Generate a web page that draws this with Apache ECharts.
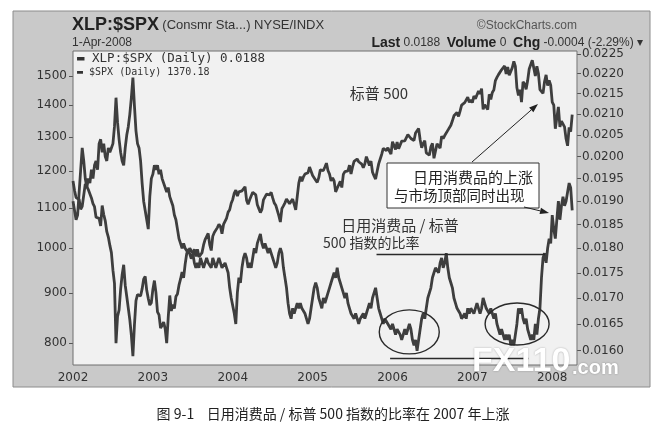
<!DOCTYPE html>
<html><head><meta charset="utf-8">
<script src="https://cdn.jsdelivr.net/npm/echarts@6/dist/echarts.min.js"></script>
<style>html,body{margin:0;padding:0;background:#fff;}#c{width:667px;height:427px;}</style>
</head><body><div id="c"></div>
<script>
// ---- data (weekly readings, 52 per year, first point at start of year) ----
const weeksPerYear = 52;
const spx2002 = [1172,1146,1127,1130, 1122,1096,1104,1106, 1164,1166,1148,1147,1126, 1111,1103,1076,1077, 1073,1054,1106,1083, 1067,1040,1027,1007,990, 950,921,800,852, 865,908,940,962, 917,893,889,845,815, 776,835,884,897, 900,894,909,930, 936,906,889,875,880];
const spx2003 = [908,927,901,861, 855,829,834,841, 828,800,850,895,863, 876,868,893,898, 917,930,946,933, 963,987,998,995,976, 985,998,981,998, 980,977,990,1008, 1021,1018,1036,1009,995, 1029,1038,1039,1050, 1058,1053,1035,1058, 1061,1074,1089,1095,1112];
const spx2004 = [1122,1139,1147,1131, 1142,1146,1145,1144, 1156,1120,1109,1121,1126, 1141,1139,1134,1108, 1098,1088,1096,1121, 1123,1136,1135,1134,1141, 1126,1113,1107,1102, 1080,1064,1098,1105, 1113,1123,1128,1111,1115, 1123,1109,1095,1130, 1166,1184,1171,1183, 1191,1189,1195,1211,1212];
const spx2005 = [1187,1185,1174,1168, 1181,1203,1205,1201, 1211,1222,1201,1191,1172, 1180,1172,1142,1152, 1157,1171,1154,1190, 1198,1197,1200,1216,1191, 1211,1227,1228,1234, 1226,1230,1219,1209, 1220,1241,1228,1215,1228, 1196,1186,1177,1199, 1220,1234,1248,1265, 1263,1259,1267,1257,1248];
const spx2006 = [1285,1287,1262,1284, 1264,1266,1287,1289, 1288,1282,1307,1302,1295, 1296,1289,1312,1311, 1326,1291,1267,1280, 1288,1252,1256,1245,1270, 1280,1236,1241,1279, 1279,1266,1302,1295, 1304,1299,1320,1315,1336, 1350,1366,1368,1377, 1364,1381,1401,1400, 1409,1418,1427,1410,1418];
const spx2007 = [1409,1431,1422,1420, 1448,1438,1456,1387, 1402,1406,1386,1437,1420, 1443,1452,1484,1495, 1505,1505,1522,1515, 1536,1507,1532,1503,1503, 1530,1553,1534,1459, 1433,1453,1411,1480, 1473,1454,1484,1525,1527, 1557,1561,1500,1535, 1509,1453,1458,1440, 1481,1504,1467,1485,1468];
const spx2008 = [1411,1401,1325,1330, 1395,1331,1349,1353, 1331,1294,1273,1329,1316, 1370];

const ratio2002 = [0.0190,0.0188,0.0186,0.0187, 0.0192,0.0197,0.0202,0.0199, 0.0195,0.0193,0.0195,0.0194,0.0197, 0.0195,0.0198,0.0199,0.0197, 0.0203,0.0204,0.0201,0.0203, 0.0200,0.0199,0.0202,0.0201,0.0202, 0.0203,0.0207,0.0214,0.0208, 0.0204,0.0201,0.0199,0.0198, 0.0202,0.0205,0.0207,0.0210,0.0214, 0.0219,0.0212,0.0206,0.0203, 0.0202,0.0199,0.0194,0.0190, 0.0188,0.0186,0.0184,0.0191,0.0195];
const ratio2003 = [0.0196,0.0198,0.0197,0.0198, 0.0196,0.0197,0.0195,0.0195, 0.0193,0.0192,0.0193,0.0191,0.0190, 0.0189,0.0187,0.0186,0.0184, 0.0182,0.0181,0.0180,0.0181, 0.0180,0.0180,0.0179,0.0180,0.0180, 0.0179,0.0177,0.0176,0.0177, 0.0176,0.0178,0.0177,0.0176, 0.0177,0.0178,0.0177,0.0177,0.0176, 0.0178,0.0177,0.0176,0.0177, 0.0178,0.0177,0.0176,0.0176, 0.0177,0.0176,0.0175,0.0172,0.0170];
const ratio2004 = [0.0170,0.0167,0.0165,0.0171, 0.0174,0.0173,0.0176,0.0178, 0.0179,0.0178,0.0176,0.0177,0.0176, 0.0178,0.0180,0.0179,0.0181, 0.0182,0.0183,0.0181,0.0180, 0.0181,0.0180,0.0179,0.0180,0.0179, 0.0178,0.0177,0.0176,0.0177, 0.0179,0.0180,0.0179,0.0176, 0.0174,0.0172,0.0169,0.0167,0.0166, 0.0168,0.0167,0.0168,0.0169, 0.0168,0.0169,0.0168,0.0168, 0.0167,0.0166,0.0165,0.0166,0.0168];
const ratio2005 = [0.0170,0.0172,0.0173,0.0172, 0.0170,0.0169,0.0168,0.0170, 0.0169,0.0170,0.0171,0.0172,0.0173, 0.0174,0.0175,0.0174,0.0176, 0.0174,0.0173,0.0172,0.0171, 0.0170,0.0171,0.0169,0.0168,0.0167, 0.0167,0.0166,0.0167,0.0166, 0.0165,0.0166,0.0166,0.0167, 0.0166,0.0167,0.0168,0.0169,0.0168, 0.0170,0.0171,0.0172,0.0170, 0.0168,0.0167,0.0166,0.0165, 0.0166,0.0166,0.0165,0.0165,0.0164];
const ratio2006 = [0.0165,0.0164,0.0163,0.0164, 0.0164,0.0163,0.0162,0.0163, 0.0164,0.0163,0.0164,0.0165,0.0164, 0.0162,0.0161,0.0162,0.0160, 0.0162,0.0164,0.0166,0.0167, 0.0166,0.0168,0.0170,0.0170,0.0172, 0.0174,0.0175,0.0176,0.0176, 0.0175,0.0177,0.0178,0.0176, 0.0177,0.0179,0.0176,0.0174,0.0173, 0.0172,0.0170,0.0169,0.0168, 0.0168,0.0167,0.0166,0.0166, 0.0167,0.0166,0.0168,0.0167,0.0168];
const ratio2007 = [0.0168,0.0167,0.0168,0.0169, 0.0168,0.0167,0.0168,0.0170, 0.0169,0.0168,0.0168,0.0167,0.0168, 0.0167,0.0166,0.0167,0.0165, 0.0164,0.0163,0.0164,0.0163, 0.0162,0.0163,0.0162,0.0163,0.0161, 0.0162,0.0161,0.0163,0.0165, 0.0168,0.0167,0.0168,0.0166, 0.0165,0.0166,0.0164,0.0163,0.0162, 0.0163,0.0162,0.0165,0.0163, 0.0166,0.0168,0.0174,0.0178, 0.0179,0.0177,0.0180,0.0182,0.0181];
const ratio2008 = [0.0187,0.0184,0.0182,0.0186, 0.0190,0.0186,0.0189,0.0191, 0.0189,0.0190,0.0192,0.0194,0.0193, 0.0188];

const years = [2002, 2003, 2004, 2005, 2006, 2007, 2008];
const spxByYear = [spx2002, spx2003, spx2004, spx2005, spx2006, spx2007, spx2008];
const ratioByYear = [ratio2002, ratio2003, ratio2004, ratio2005, ratio2006, ratio2007, ratio2008];

const spxTicks = [800, 900, 1000, 1100, 1200, 1300, 1400, 1500];
const ratioTicks = [0.0160, 0.0165, 0.0170, 0.0175, 0.0180, 0.0185, 0.0190, 0.0195, 0.0200, 0.0205, 0.0210, 0.0215, 0.0220, 0.0225];
const spxRange = [760, 1591];
const ratioRange = [0.01574, 0.02258];
const xRange = [2002, 2008.31];

const resistanceLine = [[2005.8, 0.01788], [2007.91, 0.01788]];
const supportLine = [[2005.97, 0.01587], [2007.7, 0.01587]];
const circledBottoms = [[2006.21, 0.01635], [2007.56, 0.0165]];

const legendLines = ['XLP:$SPX (Daily) 0.0188', '$SPX (Daily) 1370.18'];
const caption = '图 9-1    日用消费品 / 标普 500 指数的比率在 2007 年上涨';

// ---- build ----
function build(byYear) {
  const out = [];
  byYear.forEach((arr, k) => arr.forEach((v, i) => out.push([years[k] + i / weeksPerYear, Math.log10(v)])));
  return out;
}
const lg = Math.log10;
const lineCol = '#3e3e3e';
const axisFont = 'DejaVu Sans';

const chart = echarts.init(document.getElementById('c'));
chart.setOption({
  animation: false,
  backgroundColor: '#ffffff',
  grid: { left: 73, right: 90, top: 51, bottom: 62, show: true, backgroundColor: '#f1f1f1', borderColor: '#6e6e6e', borderWidth: 1, z: 2 },
  xAxis: {
    type: 'value', min: xRange[0], max: xRange[1], interval: 0.5,
    axisLine: { show: false }, axisTick: { show: false },
    splitLine: { show: true, lineStyle: { color: '#d2d2d2', width: 1 } },
    axisLabel: { margin: 7, color: '#333', fontFamily: axisFont, fontSize: 12,
      formatter: v => (Math.abs(v - Math.round(v)) < 1e-6 ? String(Math.round(v)) : '') }
  },
  yAxis: [
    { type: 'value', position: 'left', min: lg(spxRange[0]), max: lg(spxRange[1]),
      axisLine: { show: false }, splitLine: { show: false },
      axisTick: { show: true, length: 4, customValues: spxTicks.map(lg), lineStyle: { color: '#555' } },
      axisLabel: { customValues: spxTicks.map(lg), margin: 6, color: '#333', fontFamily: axisFont, fontSize: 12,
        formatter: v => String(Math.round(Math.pow(10, v))) } },
    { type: 'value', position: 'right', min: lg(ratioRange[0]), max: lg(ratioRange[1]),
      axisLine: { show: false },
      splitLine: { show: true, lineStyle: { color: '#d2d2d2', width: 1 } },
      axisTick: { show: true, length: 4, customValues: ratioTicks.map(lg), lineStyle: { color: '#555' } },
      axisLabel: { customValues: ratioTicks.map(lg), margin: 5, color: '#333', fontFamily: axisFont, fontSize: 12,
        formatter: v => Math.pow(10, v).toFixed(4) } }
  ],
  series: [
    { name: '$SPX', type: 'line', yAxisIndex: 0, data: build(spxByYear), showSymbol: false, symbol: 'none',
      lineStyle: { color: lineCol, width: 2.8 }, z: 3 },
    { name: 'XLP:$SPX', type: 'line', yAxisIndex: 1, data: build(ratioByYear), showSymbol: false, symbol: 'none',
      lineStyle: { color: lineCol, width: 2.8 }, z: 3,
      markLine: { silent: true, symbol: 'none', label: { show: false },
        lineStyle: { color: '#2a2a2a', width: 1.4, type: 'solid' },
        data: [resistanceLine, supportLine].map(seg => seg.map(p => ({ coord: [p[0], lg(p[1])] }))) } }
  ]
});

function arrow(x1, y1, x2, y2) {
  const dx = x2 - x1, dy = y2 - y1, L = Math.hypot(dx, dy), ux = dx / L, uy = dy / L;
  const hl = 9, hw = 3.2, bx = x2 - ux * hl, by = y2 - uy * hl;
  return [
    { type: 'line', z: 20, shape: { x1, y1, x2: bx, y2: by }, style: { stroke: '#222', lineWidth: 1 } },
    { type: 'polygon', z: 20, shape: { points: [[x2, y2], [bx - uy * hw, by + ux * hw], [bx + uy * hw, by - ux * hw]] }, style: { fill: '#222' } }
  ];
}
const cjk = 'Noto Sans CJK SC';
const ellipses = circledBottoms.map(p => chart.convertToPixel({ xAxisIndex: 0, yAxisIndex: 1 }, [p[0], lg(p[1])]));
const g = [
  { type: 'rect', z: -5, silent: true, shape: { x: 13, y: 11, width: 637, height: 376 }, style: { fill: '#c9c9c9', stroke: '#8c8c8c', lineWidth: 1 } },
  { type: 'text', z: 10, x: 72, y: 25, style: { text: '{a|XLP:$SPX} {b|(Consmr Sta...) NYSE/INDX}', verticalAlign: 'middle',
      rich: { a: { fontFamily: 'Liberation Sans', fontWeight: 'bold', fontSize: 18, fill: '#222' }, b: { fontFamily: 'Liberation Sans', fontSize: 13, fill: '#333' } } } },
  { type: 'text', z: 10, x: 577, y: 26, style: { text: '©StockCharts.com', align: 'right', verticalAlign: 'middle', fontFamily: 'Liberation Sans', fontSize: 12, fill: '#555' } },
  { type: 'text', z: 10, x: 72, y: 43, style: { text: '1-Apr-2008', verticalAlign: 'middle', fontFamily: 'Liberation Sans', fontSize: 12, fill: '#333' } },
  { type: 'text', z: 10, x: 643, y: 43, style: { text: '{b|Last} {v|0.0188}  {b|Volume} {v|0}  {b|Chg} {v|-0.0004 (-2.29%)} {v|▾}', align: 'right', verticalAlign: 'middle',
      rich: { b: { fontFamily: 'Liberation Sans', fontWeight: 'bold', fontSize: 14, fill: '#222' }, v: { fontFamily: 'Liberation Sans', fontSize: 12, fill: '#333' } } } },
  { type: 'text', z: 10, x: 77, y: 59, style: { text: '▬ ' + legendLines[0], verticalAlign: 'middle', fontFamily: 'DejaVu Sans Mono', fontSize: 12.5, fill: '#333' } },
  { type: 'text', z: 10, x: 77, y: 72, style: { text: '▬ ' + legendLines[1], verticalAlign: 'middle', fontFamily: 'DejaVu Sans Mono', fontSize: 10, fill: '#333' } },
  // annotations
  { type: 'text', z: 20, x: 379, y: 93, style: { text: '标普 500', align: 'center', verticalAlign: 'middle', fontFamily: cjk, fontSize: 15, fill: '#333' } },
  { type: 'rect', z: 19, shape: { x: 387, y: 163, width: 152, height: 45 }, style: { fill: '#ffffff', stroke: '#333', lineWidth: 1 } },
  { type: 'text', z: 20, x: 533, y: 177, style: { text: '日用消费品的上涨', align: 'right', verticalAlign: 'middle', fontFamily: cjk, fontSize: 15, fill: '#222' } },
  { type: 'text', z: 20, x: 394, y: 195, style: { text: '与市场顶部同时出现', align: 'left', verticalAlign: 'middle', fontFamily: cjk, fontSize: 14.5, fill: '#222' } },
  { type: 'text', z: 20, x: 400, y: 225, style: { text: '日用消费品 / 标普', align: 'center', verticalAlign: 'middle', fontFamily: cjk, fontSize: 15, fill: '#333' } },
  { type: 'text', z: 20, x: 323, y: 243, style: { text: '500 指数的比率', align: 'left', verticalAlign: 'middle', fontFamily: cjk, fontSize: 14, fill: '#333' } },
  ...arrow(472, 162, 538, 104),
  ...arrow(524, 207, 549, 213),
  { type: 'ellipse', z: 20, shape: { cx: ellipses[0][0], cy: ellipses[0][1], rx: 30, ry: 22 }, style: { fill: 'none', stroke: '#2a2a2a', lineWidth: 1.4 } },
  { type: 'ellipse', z: 20, shape: { cx: ellipses[1][0], cy: ellipses[1][1], rx: 32, ry: 21 }, style: { fill: 'none', stroke: '#2a2a2a', lineWidth: 1.4 } },
  // watermark
  { type: 'text', z: 30, x: 472, y: 362, style: { text: 'FX110', verticalAlign: 'middle', fontFamily: 'Liberation Sans', fontWeight: 'bold', fontSize: 34, fill: '#ffffff', textShadowColor: 'rgba(0,0,0,0.3)', textShadowBlur: 2 } },
  { type: 'text', z: 30, x: 572, y: 368, style: { text: '.com', verticalAlign: 'middle', fontFamily: 'Liberation Sans', fontWeight: 'bold', fontSize: 20, fill: '#ffffff', textShadowColor: 'rgba(0,0,0,0.3)', textShadowBlur: 2 } },
  // caption
  { type: 'text', z: 10, x: 333, y: 414, style: { text: caption, align: 'center', verticalAlign: 'middle', fontFamily: cjk, fontSize: 14, fill: '#222' } }
];
chart.setOption({ graphic: g });
</script>
</body></html>
